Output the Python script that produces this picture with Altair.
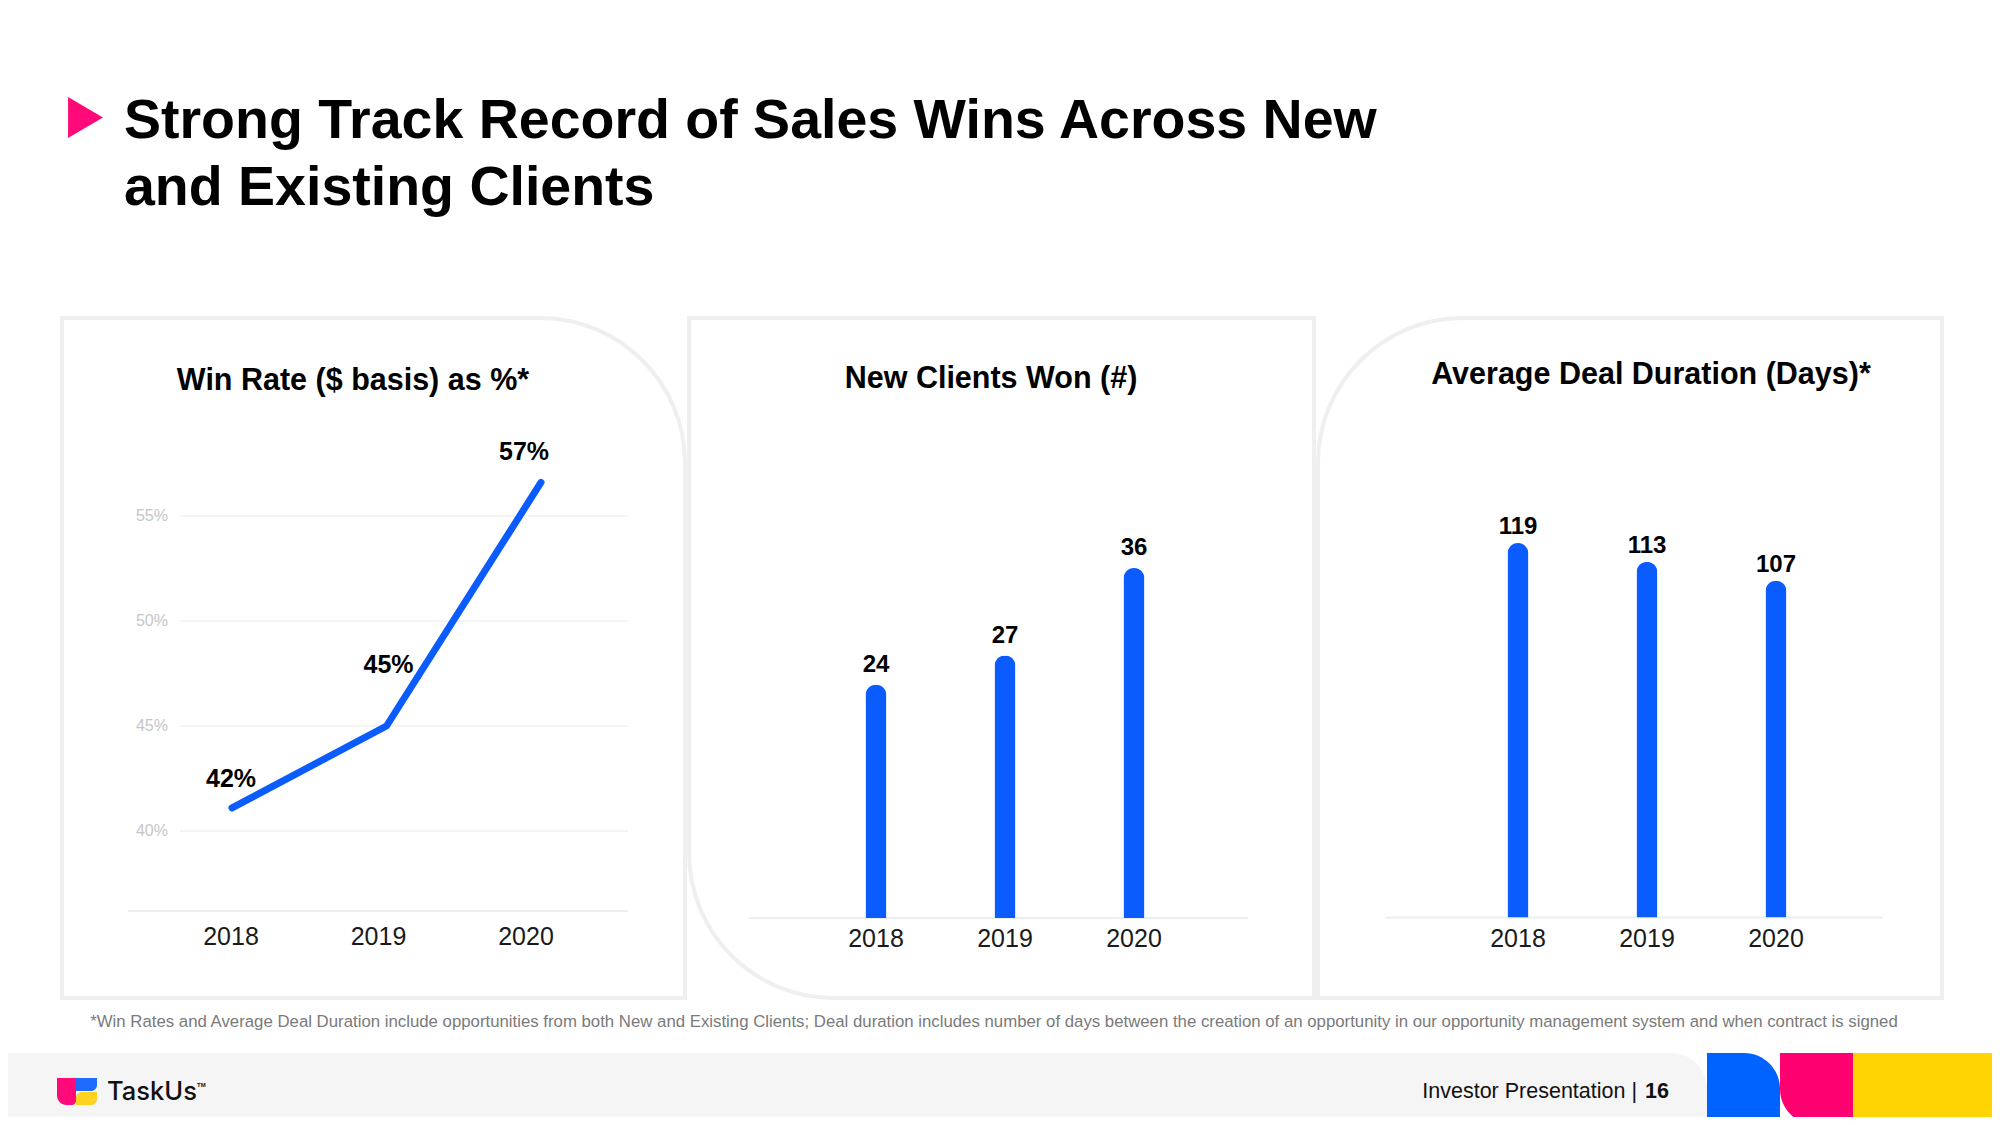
import altair as alt
import pandas as pd

# ---------------- data ----------------
years = ["2018", "2019", "2020"]
win_rate = [41.1, 45.0, 56.6]
win_rate_labels = ["42%", "45%", "57%"]
win_rate_ticks = [40, 45, 50, 55]
win_rate_tick_labels = ["40%", "45%", "50%", "55%"]
new_clients = [24, 27, 36]
deal_days = [119, 113, 107]

title_lines = ["Strong Track Record of Sales Wins Across New", "and Existing Clients"]
panel_titles = ["Win Rate ($ basis) as %*", "New Clients Won (#)", "Average Deal Duration (Days)*"]
footnote = ("*Win Rates and Average Deal Duration include opportunities from both New and Existing "
            "Clients; Deal duration includes number of days between the creation of an opportunity "
            "in our opportunity management system and when contract is signed")
footer_label = "Investor Presentation |"
page_number = "16"
brand = "TaskUs"

# ---------------- style ----------------
BLUE = "#0a5cff"
PINK = "#ff0a78"
FONT = "Liberation Sans"
W, H = 1984, 1109
M = 8  # page margin


def p(v):
    """reference pixel -> chart pixel"""
    return v - M


one = pd.DataFrame({"k": [0]})


def rect(x, x2, y, y2, **kw):
    return alt.Chart(one).mark_rect(**kw).encode(
        x=alt.value(p(x)), x2=alt.value(p(x2)), y=alt.value(p(y)), y2=alt.value(p(y2)))


def rule(x, x2, y, **kw):
    return alt.Chart(one).mark_rule(**kw).encode(
        x=alt.value(p(x)), x2=alt.value(p(x2)), y=alt.value(p(y)))


def label(x, y, txt, **kw):
    kw.setdefault("font", FONT)
    kw.setdefault("baseline", "alphabetic")
    return alt.Chart(one).mark_text(text=txt, **kw).encode(x=alt.value(p(x)), y=alt.value(p(y)))


layers = []

# ---------------- panel boxes ----------------
BOX = dict(fill="white", stroke="#efefef", strokeWidth=4)
layers.append(rect(62, 685, 318, 998, cornerRadiusTopRight=145, **BOX))
layers.append(rect(689, 1314, 318, 998, cornerRadiusBottomLeft=145, **BOX))
layers.append(rect(1318, 1942, 318, 998, cornerRadiusTopLeft=145, **BOX))

# ---------------- slide title ----------------
layers.append(alt.Chart(one).mark_point(
    shape="M-0.85,-1L0.85,0L-0.85,1Z", size=41 * 41, filled=True, fill=PINK, opacity=1, strokeWidth=0
).encode(x=alt.value(p(85.5)), y=alt.value(p(117.5))))
layers.append(label(124, 138, title_lines[0], fontSize=55.5, fontWeight="bold", align="left", color="#000"))
layers.append(label(124, 205, title_lines[1], fontSize=55.5, fontWeight="bold", align="left", color="#000"))

# ---------------- panel titles ----------------
for cx, by, t in zip([353, 991, 1651], [390, 388, 384], panel_titles):
    layers.append(label(cx, by, t, fontSize=30.5, fontWeight="bold", align="center", color="#000"))

# ---------------- panel 1 : line ----------------
df1 = pd.DataFrame({"year": years, "rate": win_rate, "label": win_rate_labels})
dft = pd.DataFrame({"tick": win_rate_ticks, "tick_label": win_rate_tick_labels})

x1 = alt.X("year:O", scale=alt.Scale(type="point", domain=years, range=[p(232), p(541)], padding=0), axis=None)
x1lab = alt.X("year:O", scale=alt.Scale(type="point", domain=years, range=[p(231), p(526)], padding=0), axis=None)
y1s = alt.Scale(domain=[40, 55], range=[p(831), p(516)], zero=False, nice=False)
y1 = alt.Y("rate:Q", scale=y1s, axis=None)
yt = alt.Y("tick:Q", scale=y1s, axis=None)

layers.append(alt.Chart(dft).mark_rule(color="#f1f1f1", strokeWidth=1.5).encode(
    y=yt, x=alt.value(p(180)), x2=alt.value(p(628))))
layers.append(alt.Chart(dft).mark_text(align="right", baseline="middle", fontSize=16, color="#c6c6c6", font=FONT).encode(
    y=yt, x=alt.value(p(168)), text="tick_label:N"))
layers.append(rule(128, 628, 911, color="#eeeeee", strokeWidth=2))
layers.append(alt.Chart(df1).mark_line(color=BLUE, strokeWidth=7, strokeCap="round", strokeJoin="round").encode(
    x=x1, y=y1, order="year:O"))
for yr, (dx, dy) in zip(years, [(-1, -21), (2, -53), (-17, -22)]):
    layers.append(alt.Chart(df1).transform_filter(alt.datum.year == yr).mark_text(
        dx=dx, dy=dy, fontSize=25, fontWeight="bold", font=FONT, color="#000", align="center",
        baseline="alphabetic"
    ).encode(x=x1, y=y1, text="label:N"))
layers.append(alt.Chart(df1).mark_text(fontSize=25, font=FONT, color="#1a1a1a", align="center",
                                       baseline="alphabetic").encode(
    x=x1lab, y=alt.value(p(945)), text="year:N"))


# ---------------- panels 2 & 3 : bars ----------------
def bar_panel(values, x_first, x_last, y_base, y_top_value, dom_max, dy, base_x, base_x2):
    df = pd.DataFrame({"year": years, "v": values})
    xs = alt.X("year:O", scale=alt.Scale(type="point", domain=years, range=[p(x_first), p(x_last)], padding=0), axis=None)
    ys = alt.Y("v:Q", scale=alt.Scale(domain=[0, dom_max], range=[p(y_base), p(y_top_value)], nice=False), axis=None)
    out = [
        rule(base_x, base_x2, y_base, color="#eeeeee", strokeWidth=2),
        alt.Chart(df).mark_bar(width=21, color=BLUE, cornerRadiusTopLeft=10.5, cornerRadiusTopRight=10.5).encode(
            x=xs, y=ys),
        alt.Chart(df).mark_text(dy=dy, fontSize=24, fontWeight="bold", font=FONT, color="#000", align="center",
                                baseline="alphabetic").encode(
            x=xs, y=ys, text="v:Q"),
        alt.Chart(df).mark_text(fontSize=25, font=FONT, color="#1a1a1a", align="center",
                                baseline="alphabetic").encode(
            x=xs, y=alt.value(p(947)), text="year:N"),
    ]
    return out


layers += bar_panel(new_clients, 876, 1134, 918, 568, 36, -13, 749, 1248)
layers += bar_panel(deal_days, 1518, 1776, 917.5, 543, 119, -9, 1385, 1883)

# ---------------- footnote ----------------
layers.append(label(994, 1027, footnote, fontSize=16.8, align="center", color="#7a7a7a"))

# ---------------- footer ----------------
layers.append(rect(0, 1707, 1053, 1125, fill="#f5f5f5", cornerRadiusTopRight=36))
layers.append(rect(1707, 1780, 1053, 1125, fill="#0062ff", cornerRadiusTopRight=42))
layers.append(rect(1780, 1853, 1053, 1125, fill="#ff0070", cornerRadiusBottomLeft=40))
layers.append(rect(1853, 2000, 1053, 1125, fill="#ffd400"))
# logo
layers.append(rect(57, 76, 1078, 1105, fill="#ff0a78", cornerRadiusBottomLeft=10, cornerRadiusBottomRight=4))
layers.append(rect(76, 97, 1078, 1091, fill="#1f6bff", cornerRadiusBottomRight=6))
layers.append(rect(76, 97, 1092, 1105, fill="#ffd21f", cornerRadiusTopLeft=6, cornerRadiusBottomRight=6))
layers.append(label(107, 1100, brand, fontSize=25.5, fontWeight=500, font="Inter", align="left", color="#111"))
layers.append(label(197, 1087, "TM", fontSize=6, fontWeight="bold", align="left", color="#111"))
layers.append(label(1637, 1098, footer_label, fontSize=21.5, align="right", color="#111"))
layers.append(label(1645, 1098, page_number, fontSize=21.5, fontWeight="bold", align="left", color="#111"))

chart = alt.layer(*layers).resolve_scale(x="independent", y="independent").properties(
    width=W, height=H, padding=0, autosize=alt.AutoSizeParams(type="none"), background="white"
).configure_view(stroke=None)

chart.save("out.html", embed_options={"renderer": "svg", "actions": False})
